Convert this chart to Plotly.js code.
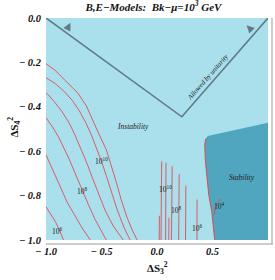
<!DOCTYPE html>
<html>
<head>
<meta charset="utf-8">
<script src="https://cdn.plot.ly/plotly-3.0.1.min.js"></script>
<style>html,body{margin:0;padding:0;background:#fff;}#chart{width:275px;height:280px;}</style>
</head>
<body>
<div id="chart"></div>
<script>
// ---- data ----
var xTickVals = [-1, -0.5, 0, 0.5, 1];
var xTickText = ["\u2212 1.0", "\u2212 0.5", "0.0", "0.5", "1.0"];
var yTickVals = [0, -0.2, -0.4, -0.6, -0.8, -1.0];
var yTickText = ["0.0", "\u2212 0.2", "\u2212 0.4", "\u2212 0.6", "\u2212 0.8", "\u2212 1.0"];

// unitarity boundary (V shape)
var unitX = [-1.0, 0.224, 1.0];
var unitY = [0.0, -0.445, 0.0];

// stability region boundary
var stabX = [1.0, 0.834, 0.655, 0.520, 0.457, 0.439, 0.430, 0.435, 0.448, 0.466, 0.493, 0.511, 0.520, 1.0, 1.0];
var stabY = [-0.472, -0.490, -0.508, -0.523, -0.532, -0.544, -0.571, -0.638, -0.719, -0.796, -0.872, -0.945, -1.0, -1.0, -0.472];
var stabEdgeX = [0.439, 0.430, 0.435, 0.448, 0.466, 0.493, 0.511, 0.520];
var stabEdgeY = [-0.544, -0.571, -0.638, -0.719, -0.796, -0.872, -0.945, -1.0];

// left family of contours
var c1x = [-1.0, -0.915, -0.834, -0.717, -0.637, -0.583, -0.520, -0.457, -0.413, -0.368, -0.323, -0.269, -0.224, -0.179];
var c1y = [-0.206, -0.237, -0.278, -0.336, -0.395, -0.458, -0.526, -0.593, -0.661, -0.737, -0.818, -0.900, -0.954, -1.0];
var c2x = [-1.0, -0.915, -0.834, -0.762, -0.700, -0.646, -0.592, -0.538, -0.502, -0.457, -0.413, -0.359, -0.296, -0.242];
var c2y = [-0.269, -0.296, -0.332, -0.372, -0.418, -0.467, -0.526, -0.593, -0.643, -0.710, -0.782, -0.863, -0.945, -1.0];
var c3x = [-1.0, -0.933, -0.861, -0.798, -0.744, -0.682, -0.637, -0.583, -0.529, -0.466, -0.395, -0.305];
var c3y = [-0.336, -0.372, -0.418, -0.467, -0.521, -0.593, -0.647, -0.719, -0.791, -0.868, -0.936, -1.0];
var c4x = [-1.0, -0.942, -0.888, -0.834, -0.789, -0.744, -0.700, -0.664, -0.610, -0.556, -0.502, -0.457];
var c4y = [-0.449, -0.490, -0.535, -0.589, -0.638, -0.692, -0.746, -0.787, -0.850, -0.909, -0.958, -1.0];
var c5x = [-1.0, -0.960, -0.906, -0.861, -0.807, -0.744, -0.682, -0.601];
var c5y = [-0.616, -0.661, -0.719, -0.773, -0.832, -0.886, -0.940, -1.0];
var c6x = [-1.0, -0.960, -0.915, -0.879, -0.843];
var c6y = [-0.850, -0.882, -0.918, -0.954, -1.0];

// middle (near-vertical) contours
var v1x = [0.042, 0.040, 0.038, 0.036]; var v1y = [-0.646, -0.760, -0.880, -1.0];
var v2x = [0.081, 0.080, 0.078, 0.077]; var v2y = [-0.652, -0.770, -0.890, -1.0];
var v3x = [0.137, 0.135, 0.132, 0.130]; var v3y = [-0.668, -0.780, -0.890, -1.0];
var v4x = [0.200, 0.198, 0.196, 0.195]; var v4y = [-0.703, -0.800, -0.900, -1.0];
var v5x = [0.260, 0.259, 0.258, 0.257]; var v5y = [-0.755, -0.840, -0.920, -1.0];
var v6x = [0.361, 0.361, 0.360];        var v6y = [-0.818, -0.910, -1.0];
var v7x = [0.022, 0.021, 0.020];        var v7y = [-0.891, -0.945, -1.0];
var v8x = [0.108, 0.107, 0.106];        var v8y = [-0.900, -0.950, -1.0];
// short contour inside the stability region
var c4sx = [0.516, 0.529, 0.552, 0.578];
var c4sy = [-0.886, -0.850, -0.827, -0.814];

// contour labels
var labX = [-0.897, -0.668, -0.498, 0.081, 0.179, 0.363, 0.565];
var labY = [-0.958, -0.780, -0.643, -0.771, -0.866, -0.947, -0.845];
var labText = ["10<sup>6</sup>", "10<sup>8</sup>", "10<sup>10</sup>", "10<sup>10</sup>", "10<sup>8</sup>", "10<sup>6</sup>", "10<sup>4</sup>"];

// ---- drawing ----
var LIGHT = "#aadfec", DARK = "#51a6bf", RED = "rgba(228,62,72,0.9)", GREY = "#627a86";
var SERIF = "Liberation Serif, Times New Roman, serif";

var traces = [];
traces.push({x: stabX, y: stabY, type: "scatter", mode: "lines", fill: "toself",
  fillcolor: DARK, line: {width: 0}, hoverinfo: "skip", showlegend: false});
traces.push({x: stabEdgeX, y: stabEdgeY, type: "scatter", mode: "lines",
  line: {color: RED, width: 1}, hoverinfo: "skip", showlegend: false});
var reds = [[c1x,c1y],[c2x,c2y],[c3x,c3y],[c4x,c4y],[c5x,c5y],[c6x,c6y],
  [v1x,v1y],[v2x,v2y],[v3x,v3y],[v4x,v4y],[v5x,v5y],[v6x,v6y],[v7x,v7y],[v8x,v8y],[c4sx,c4sy]];
reds.forEach(function(p){
  traces.push({x: p[0], y: p[1], type: "scatter", mode: "lines",
    line: {color: RED, width: 0.9}, hoverinfo: "skip", showlegend: false});
});
traces.push({x: unitX, y: unitY, type: "scatter", mode: "lines",
  line: {color: GREY, width: 1.6}, hoverinfo: "skip", showlegend: false});

var ann = [];
for (var i = 0; i < labX.length; i++) {
  ann.push({x: labX[i], y: labY[i], xref: "x", yref: "y", text: labText[i], showarrow: false,
    font: {family: SERIF, size: 7.5, color: "#222"}});
}
ann.push({x: -0.215, y: -0.490, xref: "x", yref: "y", text: "Instability", showarrow: false,
  font: {family: SERIF, size: 7.5, color: "#222", style: "italic"}});
ann.push({x: 0.767, y: -0.719, xref: "x", yref: "y", text: "Stability", showarrow: false,
  font: {family: SERIF, size: 7.5, color: "#222", style: "italic"}});
ann.push({x: 0.459, y: -0.264, xref: "x", yref: "y", text: "Allowed by unitarity", showarrow: false,
  textangle: -48.8, font: {family: SERIF, size: 7, color: "#222", style: "italic"}});
// arrows
ann.push({x: -0.780, y: -0.021, xref: "x", yref: "y", text: "", showarrow: true,
  ax: -4, ay: 8, arrowhead: 2, arrowsize: 1.3, arrowwidth: 1.2, arrowcolor: GREY});
ann.push({x: 0.807, y: -0.033, xref: "x", yref: "y", text: "", showarrow: true,
  ax: 6, ay: 6, arrowhead: 2, arrowsize: 1.3, arrowwidth: 1.2, arrowcolor: GREY});
// axis titles
ann.push({x: 0.5, y: -0.17, xref: "paper", yref: "paper", text: "\u0394S<sub>3</sub><sup>2</sup>",
  showarrow: false, font: {family: SERIF, size: 11, color: "#111", weight: "bold"}});
ann.push({x: -0.19, y: 0.51, xref: "paper", yref: "paper", text: "\u0394S<sub>4</sub><sup>2</sup>",
  showarrow: false, textangle: -90, font: {family: SERIF, size: 11, color: "#111", weight: "bold"}});

var tickFont = {family: SERIF, size: 10.5, color: "#111", weight: "bold", style: "italic"};
var layout = {
  width: 275, height: 280,
  margin: {l: 46, r: 7, t: 18, b: 40},
  paper_bgcolor: "#ffffff", plot_bgcolor: LIGHT,
  showlegend: false,
  title: {text: "B,E\u2212Models:  Bk\u2212\u03bc=10<sup>3</sup> GeV", xref: "container", yref: "container",
    x: 0.558, xanchor: "center", y: 0.975, yanchor: "middle",
    font: {family: SERIF, size: 11, color: "#111", weight: "bold", style: "italic"}},
  xaxis: {range: [-1, 1], tickvals: xTickVals, ticktext: xTickText, showgrid: false, zeroline: false,
    showline: false, ticks: "", ticklabelstandoff: 3, tickfont: tickFont, fixedrange: true},
  yaxis: {range: [-1, 0], tickvals: yTickVals, ticktext: yTickText, showgrid: false, zeroline: false,
    showline: false, ticks: "", ticklabelstandoff: 4, tickfont: tickFont, fixedrange: true},
  shapes: [
    {type: "line", xref: "paper", yref: "paper", x0: 0, x1: 1.022, y0: -0.018, y1: -0.018,
      line: {color: "#9a9a9a", width: 1}},
    {type: "line", xref: "paper", yref: "paper", x0: 1.018, x1: 1.018, y0: -0.018, y1: 1,
      line: {color: "#9a9a9a", width: 1}}
  ],
  annotations: ann
};
Plotly.newPlot("chart", traces, layout, {staticPlot: true, displayModeBar: false});
</script>
</body>
</html>
